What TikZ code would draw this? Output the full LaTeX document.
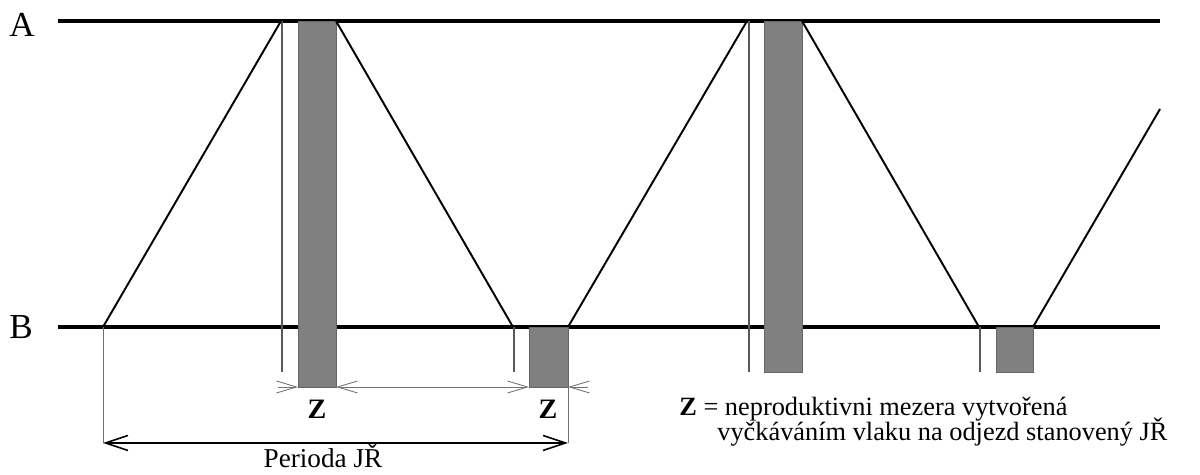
\documentclass[tikz,border=0pt]{standalone}
\usepackage{fontspec}
\setmainfont{Liberation Serif}
\usetikzlibrary{arrows.meta}

\tikzset{
  track/.style={line width=2.3pt},
  train/.style={line width=1.1pt},
  wait/.style={draw=black!65, line width=0.6pt},
  gap/.style={fill=black!50, draw=black!60, line width=0.4pt},
  guide/.style={draw=black!55, line width=0.5pt},
  zarrow/.style={guide, -{Straight Barb[length=4mm,width=2.4mm]}},
  zboth/.style={guide, {Straight Barb[length=4mm,width=2.4mm]}-{Straight Barb[length=4mm,width=2.4mm]}},
  period/.style={line width=0.9pt, {Straight Barb[length=4.5mm,width=3mm]}-{Straight Barb[length=4.5mm,width=3mm]}},
}

\begin{document}
\begin{tikzpicture}[x=0.02cm, y=-0.02cm]
\useasboundingbox (0,0) rectangle (1200,475);
% stations
\node[font=\fontsize{20}{24}\selectfont] (stA) at (22,25) {A};
\node[font=\fontsize{20}{24}\selectfont] (stB) at (21,327) {B};
\coordinate (A0) at (58,21);
\coordinate (A1) at (1160,21);
\coordinate (B0) at (58,327);
\coordinate (B1) at (1160,327);
\draw[track] (A0) -- (A1);
\draw[track] (B0) -- (B1);
% waiting (grey bars)
\draw[gap] (298,21) rectangle (336,387);
\draw[gap] (529,327) rectangle (568,387);
\draw[gap] (764,21) rectangle (802,372);
\draw[gap] (996,327) rectangle (1033,372);
\draw[wait] (282,21) -- (282,372);
\draw[wait] (514,327) -- (514,372);
\draw[wait] (749,21) -- (749,372);
\draw[wait] (980,327) -- (980,372);
% trains
\coordinate (b1) at (103,327);
\coordinate (a1) at (281,21);
\coordinate (a2) at (336,21);
\coordinate (b2) at (513,327);
\coordinate (b3) at (568,327);
\coordinate (a3) at (747,21);
\coordinate (a4) at (802,21);
\coordinate (b4) at (979,327);
\coordinate (b5) at (1033,327);
\coordinate (end) at (1160,109);
\draw[train] (b1) -- (a1);
\draw[train] (a2) -- (b2);
\draw[train] (b3) -- (a3);
\draw[train] (a4) -- (b4);
\draw[train] (b5) -- (end);
% Z markers
\coordinate (z1l) at (298,387);
\coordinate (z1r) at (336,387);
\coordinate (z2l) at (529,387);
\coordinate (z2r) at (568,387);
\draw[zarrow] (278,387) -- (z1l);
\draw[zboth] (z1r) -- (z2l);
\draw[zarrow] (588,387) -- (z2r);
\node[font=\fontsize{16}{18}\selectfont\bfseries] (z1) at (317,409) {Z};
\node[font=\fontsize{16}{18}\selectfont\bfseries] (z2) at (548,409) {Z};
% period
\coordinate (p1) at (103,443);
\coordinate (p2) at (568,443);
\draw[guide] (b1) -- (p1);
\draw[guide] (z2r) -- (p2);
\draw[period] (p1) -- (p2);
\node[anchor=base, inner sep=0pt, font=\fontsize{15.5}{18}\selectfont] (per) at (323,468) {Perioda JŘ};
% legend
\node[anchor=base west, font=\fontsize{15}{17}\selectfont, inner sep=0pt] (key) at (679,416)
  {\textbf{Z} = neproduktivni mezera vytvořená};
\node[anchor=base west, font=\fontsize{15}{17}\selectfont, inner sep=0pt] (note) at (717,441)
  {vyčkáváním vlaku na odjezd stanovený JŘ};
\end{tikzpicture}
\end{document}
